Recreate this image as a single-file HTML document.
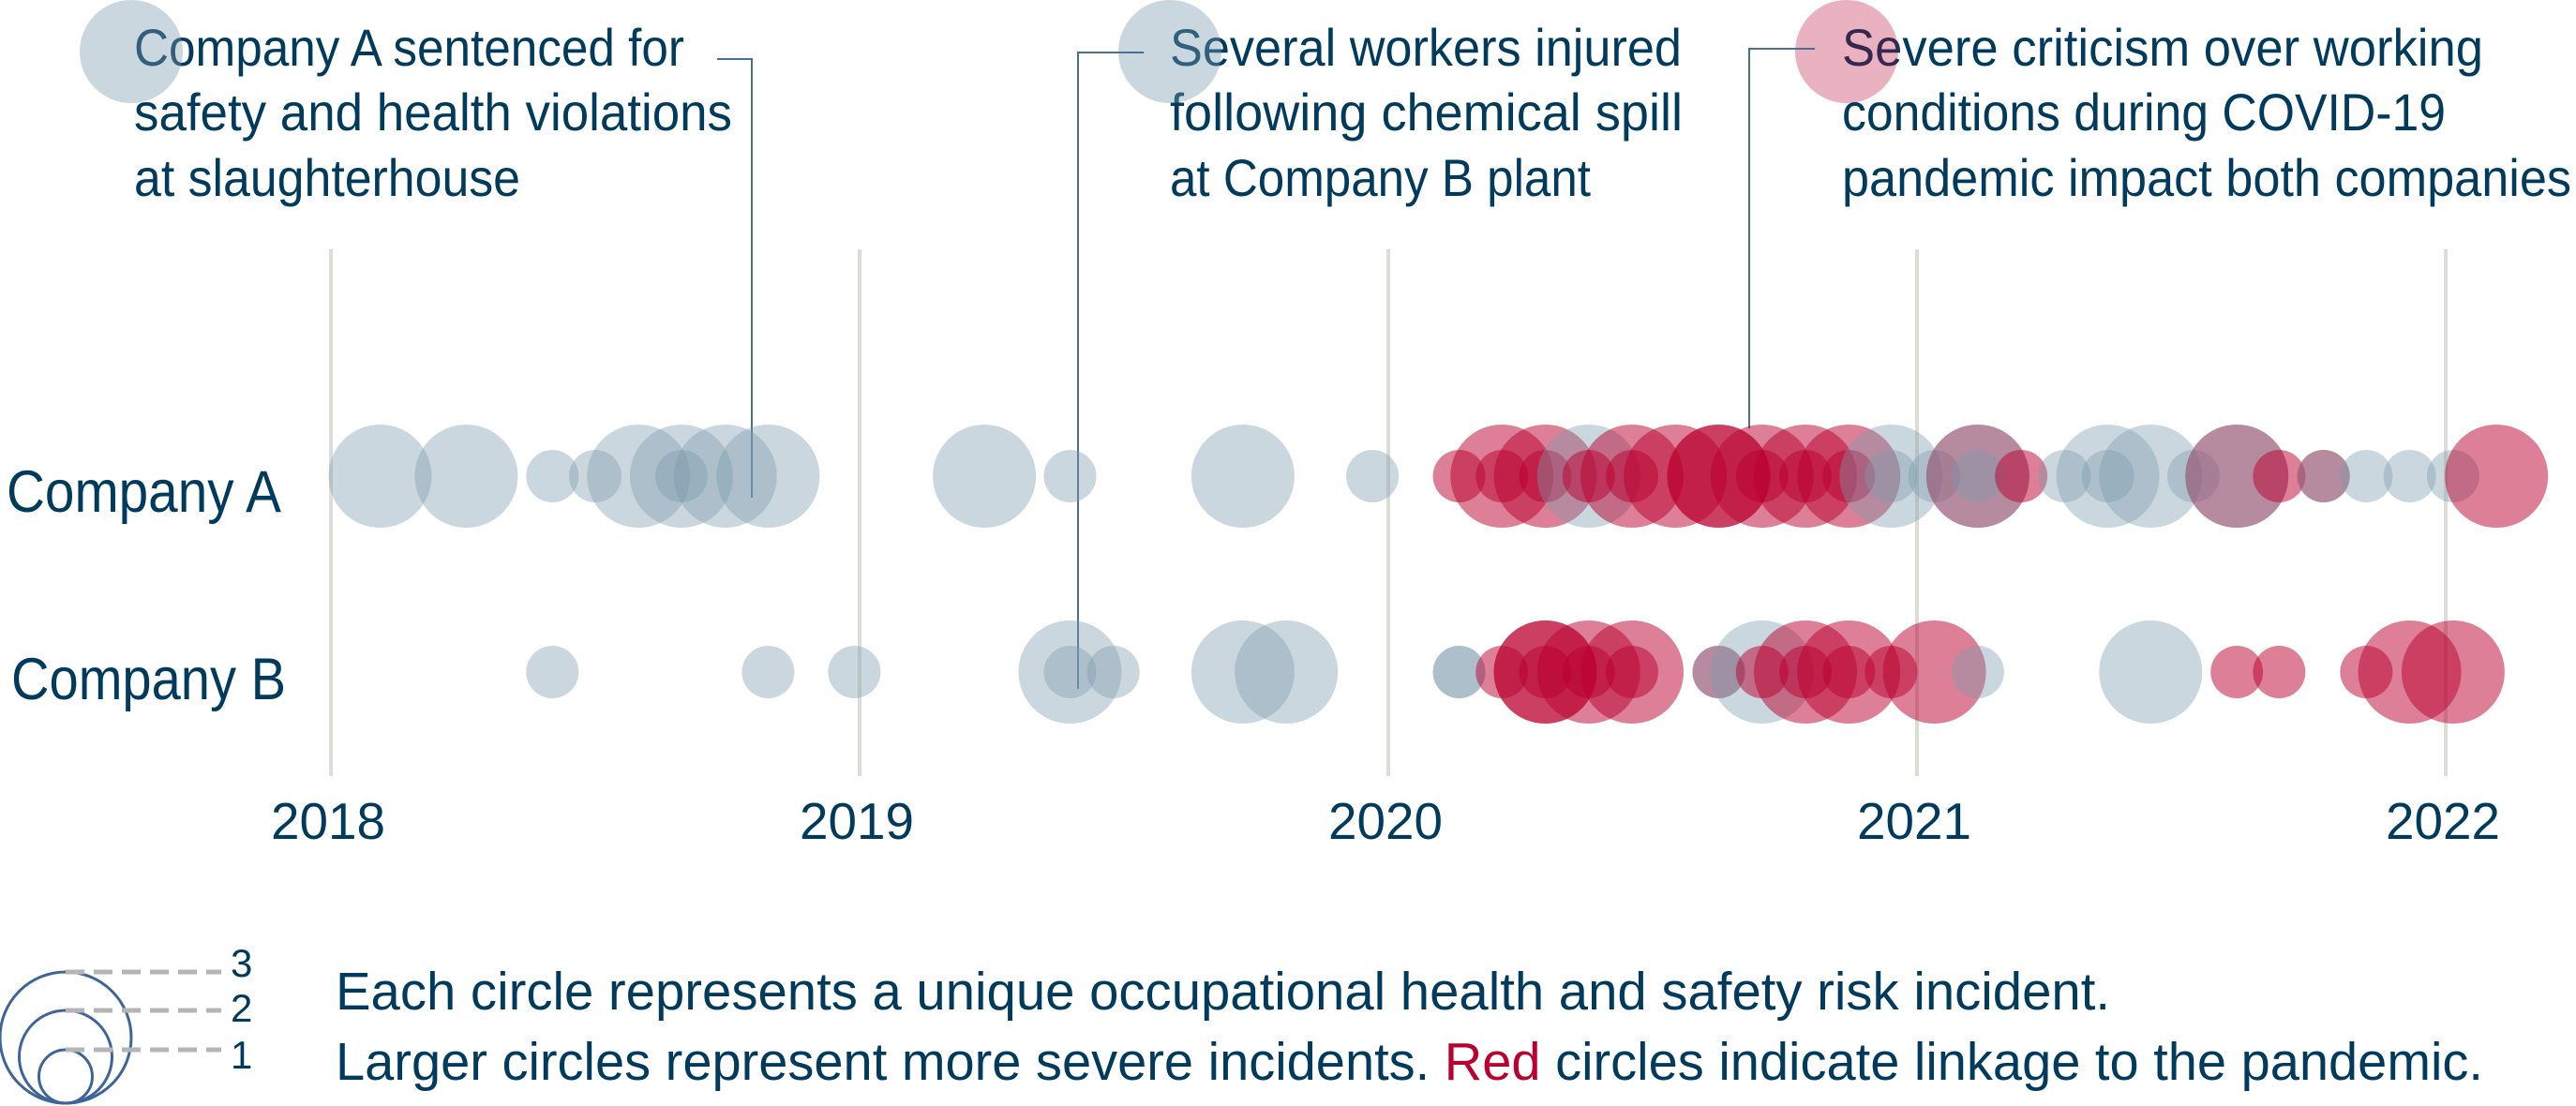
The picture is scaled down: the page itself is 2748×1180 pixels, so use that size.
<!DOCTYPE html>
<html><head><meta charset="utf-8"><style>
html,body{margin:0;padding:0;background:#fff;}
svg{display:block;font-family:"Liberation Sans Narrow","Liberation Sans",sans-serif;}
</style></head><body>
<svg id="chart" width="2748" height="1180" viewBox="0 0 2748 1180">
<g id="grid"></g>
<g id="axis"></g>
<g>
<text x="7" y="546" font-size="63" fill="#003a5d" textLength="293" lengthAdjust="spacingAndGlyphs">Company A</text>
<text x="12" y="746" font-size="63" fill="#003a5d" textLength="293" lengthAdjust="spacingAndGlyphs">Company B</text>
</g>
<g fill="#003a5d" font-size="56">
<g>
<text x="143" y="70" textLength="587" lengthAdjust="spacingAndGlyphs">Company A sentenced for</text>
<text x="143" y="139" textLength="638" lengthAdjust="spacingAndGlyphs">safety and health violations</text>
<text x="143" y="209" textLength="412" lengthAdjust="spacingAndGlyphs">at slaughterhouse</text>
<circle cx="140" cy="55" r="55" fill="#7d9aac" fill-opacity="0.4"/>
<polyline points="765,63 802,63 802,531" fill="none" stroke="#4a6f99" stroke-width="2"/>
</g>
<g>
<text x="1248" y="70" textLength="546" lengthAdjust="spacingAndGlyphs">Several workers injured</text>
<text x="1248" y="139" textLength="547" lengthAdjust="spacingAndGlyphs">following chemical spill</text>
<text x="1248" y="209" textLength="449" lengthAdjust="spacingAndGlyphs">at Company B plant</text>
<circle cx="1248" cy="55" r="55" fill="#7d9aac" fill-opacity="0.4"/>
<polyline points="1220,56 1150,56 1150,735" fill="none" stroke="#4a6f99" stroke-width="2"/>
</g>
<g>
<text x="1965" y="70" textLength="684" lengthAdjust="spacingAndGlyphs">Severe criticism over working</text>
<text x="1965" y="139" textLength="644" lengthAdjust="spacingAndGlyphs">conditions during COVID-19</text>
<text x="1965" y="209" textLength="778" lengthAdjust="spacingAndGlyphs">pandemic impact both companies</text>
<circle cx="1970" cy="55" r="55" fill="#ba0030" fill-opacity="0.3"/>
<polyline points="1936,52 1866,52 1866,457" fill="none" stroke="#4a6f99" stroke-width="2"/>
</g>
</g>
<g id="bubbles"></g>
<g>
<circle cx="70" cy="1107" r="70" fill="none" stroke="#3d6599" stroke-width="3"/>
<circle cx="70" cy="1127.5" r="49.5" fill="none" stroke="#3d6599" stroke-width="3"/>
<circle cx="70" cy="1148.5" r="28.5" fill="none" stroke="#3d6599" stroke-width="3"/>
<g stroke="#b5b5b5" stroke-width="5" stroke-dasharray="20,10">
<line x1="70" y1="1037" x2="236" y2="1037"/>
<line x1="70" y1="1078" x2="236" y2="1078"/>
<line x1="70" y1="1120" x2="236" y2="1120"/>
</g>
<g fill="#003a5d" font-size="42">
<text x="246" y="1042">3</text>
<text x="246" y="1090">2</text>
<text x="246" y="1140">1</text>
</g>
</g>
<g fill="#003a5d" font-size="57">
<text x="358" y="1077" textLength="1893" lengthAdjust="spacingAndGlyphs">Each circle represents a unique occupational health and safety risk incident.</text>
<text x="358" y="1152" textLength="2291" lengthAdjust="spacingAndGlyphs">Larger circles represent more severe incidents. <tspan fill="#ba0030">Red</tspan> circles indicate linkage to the pandemic.</text>
</g>
</svg>
<script>
const years = [2018, 2019, 2020, 2021, 2022];
const companies = ["Company A", "Company B"];
const aDates = [2018.093,2018.256,2018.419,2018.50,2018.582,2018.663,2018.663,2018.746,2018.827,2019.236,2019.398,2019.725,2019.970,
 2020.134,2020.215,2020.215,2020.297,2020.297,2020.379,2020.379,2020.461,2020.461,2020.543,2020.625,2020.625,2020.707,2020.707,2020.789,2020.789,2020.871,2020.871,
 2020.951,2020.951,2021.033,2021.115,2021.115,2021.115,2021.197,2021.279,2021.361,2021.361,2021.442,2021.523,2021.605,2021.605,2021.685,2021.769,2021.769,2021.85,2021.932,2022.014,2022.096];
const aSeverity = [3,3,1,1,3,3,1,3,3,3,1,3,1,
 1,3,1,3,1,3,1,3,1,3,3,3,3,1,3,1,3,1,
 3,1,1,3,3,1,1,1,3,1,3,1,3,3,1,1,1,1,1,1,3];
const aPandemic = [0,0,0,0,0,0,0,0,0,0,0,0,0,
 1,1,1,1,1,0,1,1,1,1,1,1,1,1,1,1,1,1,
 0,0,0,1,0,0,1,0,0,0,0,0,1,0,1,1,0,0,0,0,1];
const bDates = [2018.419,2018.827,2018.99,2019.398,2019.398,2019.48,2019.725,2019.807,2020.134,2020.134,2020.215,2020.297,2020.297,2020.297,2020.379,2020.379,2020.461,2020.461,
 2020.625,2020.625,2020.707,2020.707,2020.789,2020.789,2020.871,2020.871,2020.951,2021.033,2021.115,2021.442,2021.605,2021.685,2021.85,2021.932,2022.014];
const bSeverity = [1,1,1,3,1,1,3,3,1,1,1,3,3,1,3,1,3,1,1,1,3,1,3,1,3,1,1,3,1,3,1,1,1,3,3];
const bPandemic = [0,0,0,0,0,0,0,0,0,0,1,1,1,1,1,1,1,1,1,0,0,1,1,1,1,1,1,1,0,0,1,1,1,1,1];

const NS = "http://www.w3.org/2000/svg";
const x0 = 353, pxPerYear = 564;
function xScale(t){ return x0 + (t - 2018) * pxPerYear; }
const rowY = {"Company A": 508, "Company B": 717};
function yScale(c){ return rowY[c]; }
function rScale(s){ return 28 + (s - 1) * 13.5; }

const grid = document.getElementById("grid");
const axis = document.getElementById("axis");
years.forEach(function(y){
  const l = document.createElementNS(NS, "line");
  l.setAttribute("x1", xScale(y)); l.setAttribute("x2", xScale(y));
  l.setAttribute("y1", 266); l.setAttribute("y2", 828);
  l.setAttribute("stroke", "#dcdcd8"); l.setAttribute("stroke-width", 4);
  
  
  grid.appendChild(l);
  const t = document.createElementNS(NS, "text");
  t.setAttribute("x", xScale(y) - 3); t.setAttribute("y", 895);
  t.setAttribute("text-anchor", "middle"); t.setAttribute("font-size", 55);
  t.setAttribute("fill", "#003a5d");
  t.setAttribute("textLength", 122); t.setAttribute("lengthAdjust", "spacingAndGlyphs");
  t.textContent = String(y);
  
  
  axis.appendChild(t);
});

const g = document.getElementById("bubbles");
function drawRow(company, dates, sev, pan, key){
  dates.forEach(function(d, i){
    const c = document.createElementNS(NS, "circle");
    c.setAttribute("cx", xScale(d));
    c.setAttribute("cy", yScale(company));
    c.setAttribute("r", rScale(sev[i]));
    if (pan[i]) { c.setAttribute("fill", "#ba0030"); c.setAttribute("fill-opacity", 0.5); }
    else { c.setAttribute("fill", "#7d9aac"); c.setAttribute("fill-opacity", 0.4); }
    
    
    g.appendChild(c);
  });
}
drawRow(companies[0], aDates, aSeverity, aPandemic, "a");
drawRow(companies[1], bDates, bSeverity, bPandemic, "b");
</script>
</body></html>
